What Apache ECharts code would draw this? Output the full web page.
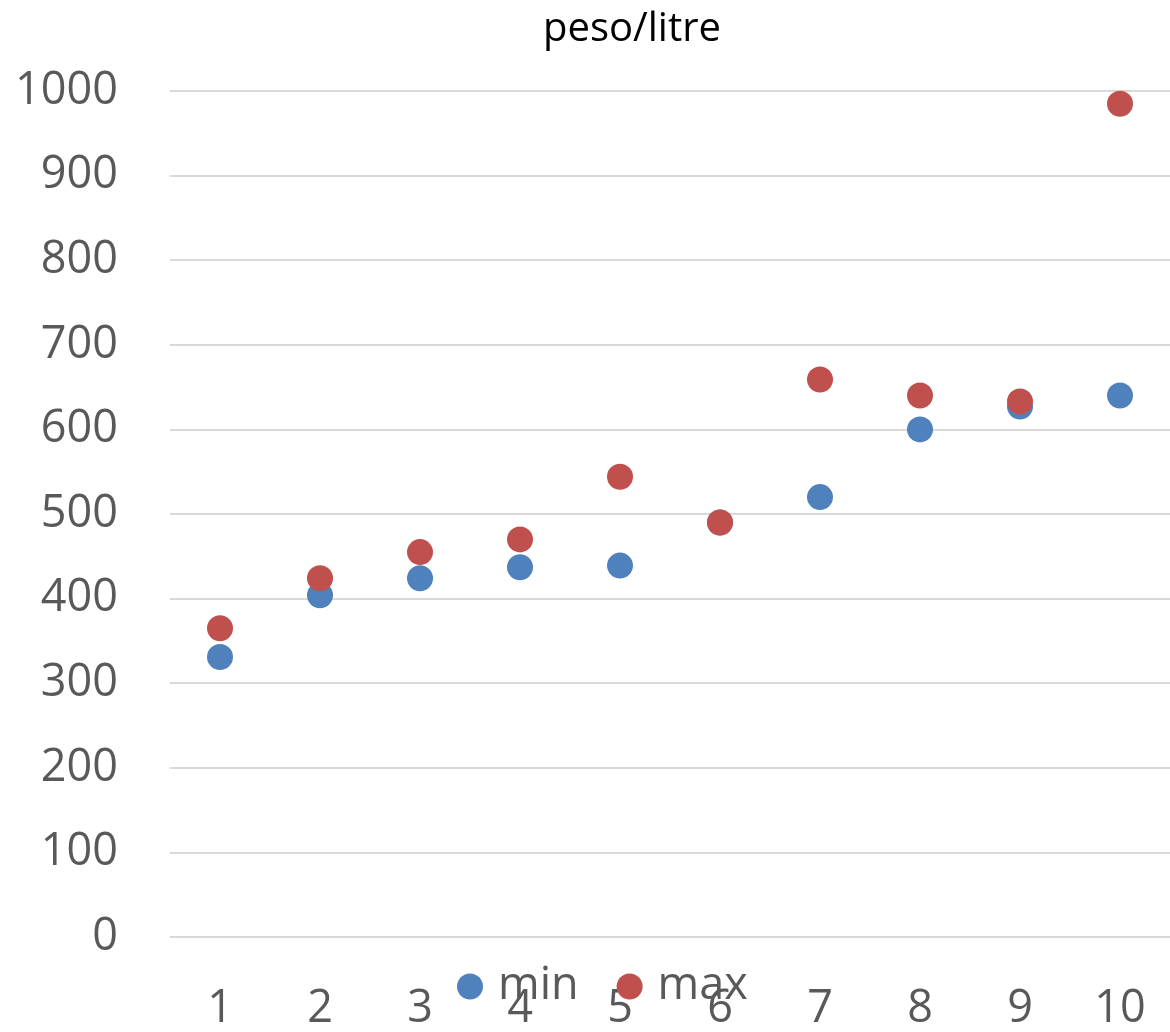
<!DOCTYPE html>
<html>
<head>
<meta charset="utf-8">
<script src="https://cdn.jsdelivr.net/npm/echarts@6/dist/echarts.min.js"></script>
<style>
  html, body { margin: 0; padding: 0; background: #fff; }
  #chart { width: 1170px; height: 1032px; }
</style>
</head>
<body>
<div id="chart"></div>
<script>
const categories = ['1', '2', '3', '4', '5', '6', '7', '8', '9', '10'];
const minValues = [331, 404, 424, 437, 439, 490, 520, 600, 627, 640];
const maxValues = [365, 424, 455, 470, 544, 490, 659, 640, 633, 985];

const chart = echarts.init(document.getElementById('chart'));
const font = '"Open Sans", "Liberation Sans", sans-serif';

chart.setOption({
  animation: false,
  color: ['#4F81BD', '#C0504D'],
  title: {
    text: 'peso/litre',
    left: 538,
    top: 5,
    textStyle: { fontFamily: font, fontSize: 40, fontWeight: 'normal', color: '#000' }
  },
  legend: {
    top: 959,
    left: 452,
    icon: 'circle',
    itemWidth: 26,
    itemHeight: 26,
    itemGap: 38,
    textStyle: { fontFamily: font, fontSize: 45, color: '#595959', padding: [0, 0, 0, 10] },
    data: ['min', 'max']
  },
  grid: { left: 170, width: 1004, top: 91, bottom: 94, containLabel: false },
  xAxis: {
    type: 'category',
    data: categories,
    boundaryGap: true,
    axisLine: { show: false },
    axisTick: { show: false },
    axisLabel: { fontFamily: font, fontSize: 45, color: '#595959', margin: 50 },
    splitLine: { show: false }
  },
  yAxis: {
    type: 'value',
    min: 0,
    max: 1000,
    interval: 100,
    axisLine: { show: false },
    axisTick: { show: false },
    axisLabel: {
      fontFamily: font, fontSize: 45, color: '#595959', margin: 52,
      formatter: function (v) { return String(v); }
    },
    splitLine: { lineStyle: { color: '#d9d9d9', width: 2 } }
  },
  series: [
    { name: 'min', type: 'scatter', symbolSize: 26, itemStyle: { opacity: 1 }, data: minValues },
    { name: 'max', type: 'scatter', symbolSize: 26, itemStyle: { opacity: 1 }, data: maxValues }
  ]
});
</script>
</body>
</html>
